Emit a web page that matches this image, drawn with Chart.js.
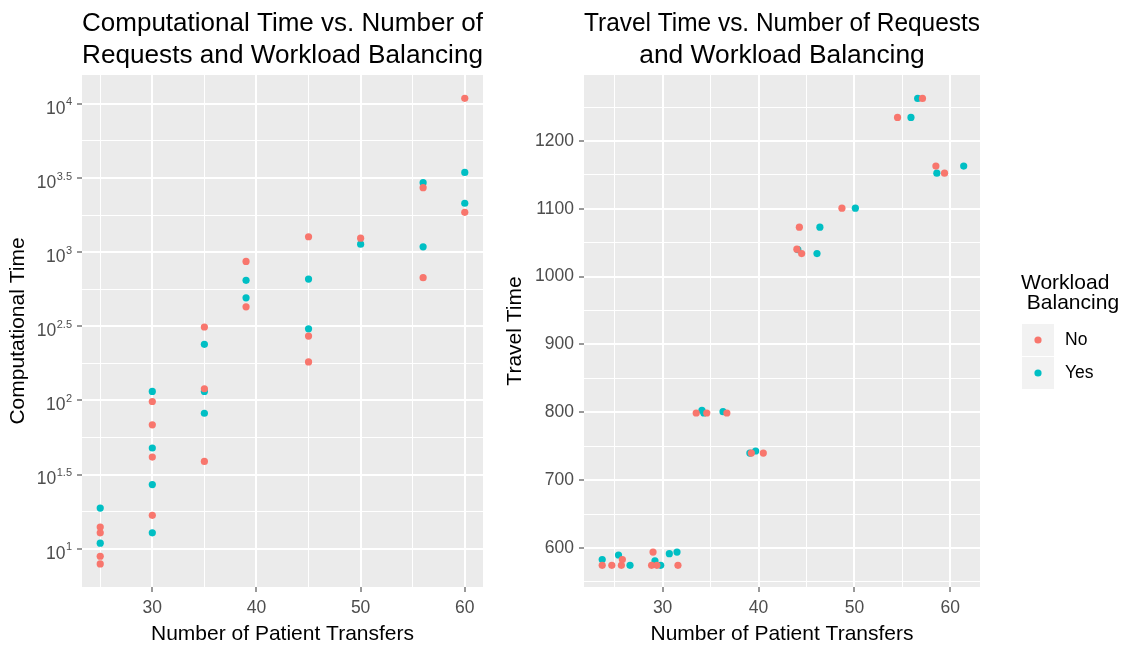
<!DOCTYPE html>
<html>
<head>
<meta charset="utf-8">
<script src="https://cdn.jsdelivr.net/npm/chart.js@4.4.0/dist/chart.umd.min.js"></script>
<style>
  body { margin: 0; background: #fff; }
  #wrap { position: relative; width: 1129px; height: 649px; }
  canvas { position: absolute; top: 0; }
  #comp { left: 0; }
  #travel { left: 490px; }
</style>
</head>
<body>
<div id="wrap">
  <canvas id="comp" width="490" height="649"></canvas>
  <canvas id="travel" width="639" height="649"></canvas>
</div>
<script>
const SERIES = ['No', 'Yes'];
const COLORS = ['#F8766D', '#00BFC4'];

// Computational time (log scale) by number of patient transfers
const compXNo  = [25, 25, 25, 25, 30, 30, 30, 30, 35, 35, 35, 39, 39, 45, 45, 45, 50, 56, 56, 60, 60];
const compYNo  = [14.0, 12.8, 8.9, 7.9, 98.4, 68.5, 41.5, 16.8, 313, 120, 38.8, 867, 428, 1271, 272, 182, 1244, 2724, 673, 10910, 1858];
const compXYes = [25, 25, 30, 30, 30, 30, 35, 35, 35, 39, 39, 45, 45, 50, 56, 56, 60, 60];
const compYYes = [18.8, 10.9, 115, 47.8, 27.1, 12.8, 239, 115, 82, 646, 492, 659, 304, 1133, 2944, 1087, 3451, 2138];

// Travel time (points are jittered along x in the original)
const travelXNo  = [23.7, 24.7, 25.7, 25.8, 28.85, 29.0, 29.4, 31.6, 33.5, 34.6, 36.7, 39.25, 40.5, 44.0, 44.26, 44.5, 48.7, 54.5, 57.1, 58.5, 59.4];
const travelYNo  = [574.5, 574.5, 574.5, 583, 574.5, 594, 574.5, 574.5, 799, 799, 799, 740, 740, 1040.5, 1073, 1034, 1101, 1234.7, 1262.7, 1163, 1152.6];
const travelXYes = [23.7, 25.4, 26.6, 29.2, 29.8, 30.7, 31.5, 34.1, 34.3, 36.3, 39.1, 39.7, 44.1, 46.1, 46.4, 50.1, 55.9, 56.6, 58.6, 61.4];
const travelYYes = [583, 589.7, 574.5, 581, 574.5, 591.6, 594, 803, 799, 801, 740, 743, 1040, 1034, 1073, 1101, 1234.7, 1262.7, 1152.6, 1163];

// axis breaks
const xMajor = [30, 40, 50, 60];
const xMinor = [25, 35, 45, 55];
const compExpMajor = [1, 1.5, 2, 2.5, 3, 3.5, 4];
const compExpMinor = [1.25, 1.75, 2.25, 2.75, 3.25, 3.75];
const travelMajor = [600, 700, 800, 900, 1000, 1100, 1200];
const travelMinor = [550, 650, 750, 850, 950, 1050, 1150, 1250];

const FONT = '"Liberation Sans", Arial, sans-serif';
Chart.defaults.font.family = FONT;
Chart.defaults.color = '#4D4D4D';

function toPoints(xs, ys) {
  return xs.map((x, i) => ({ x: x, y: ys[i] }));
}

function isIn(list, v) {
  return list.some(m => Math.abs(m - v) < 1e-6 * Math.max(1, Math.abs(m)));
}

function gridFor(majors) {
  return {
    color: '#FFFFFF',
    lineWidth: (c) => (c.tick && isIn(majors, c.tick.value)) ? 2 : 1,
    tickColor: (c) => (c.tick && isIn(majors, c.tick.value)) ? '#333333' : 'rgba(0,0,0,0)',
    tickWidth: 1,
    tickLength: 5,
    drawTicks: true
  };
}

function setTicks(values) {
  return (scale) => {
    scale.ticks = values.slice().sort((a, b) => a - b).map(v => ({ value: v }));
  };
}

function makeDatasets(noPts, yesPts) {
  return [noPts, yesPts].map((pts, i) => ({
    label: SERIES[i],
    data: pts,
    backgroundColor: COLORS[i],
    borderWidth: 0,
    pointRadius: 3.6,
    pointHoverRadius: 3.6
  }));
}

const panelBg = {
  id: 'panelBg',
  beforeDraw(chart) {
    const a = chart.chartArea;
    const ctx = chart.ctx;
    ctx.save();
    ctx.fillStyle = '#EBEBEB';
    ctx.fillRect(a.left, a.top, a.right - a.left, a.bottom - a.top);
    ctx.restore();
  }
};

// 10^x labels with a raised exponent
const logLabels = {
  id: 'logLabels',
  afterDraw(chart) {
    const y = chart.scales.y;
    const ctx = chart.ctx;
    const right = chart.chartArea.left - 10;
    ctx.save();
    ctx.fillStyle = '#4D4D4D';
    ctx.textAlign = 'right';
    ctx.textBaseline = 'alphabetic';
    compExpMajor.forEach(e => {
      const py = y.getPixelForValue(Math.pow(10, e));
      const sup = String(e);
      ctx.font = '11px ' + FONT;
      const w = ctx.measureText(sup).width;
      ctx.fillText(sup, right, py + 1.5);
      ctx.font = '17.5px ' + FONT;
      ctx.fillText('10', right - w - 0.5, py + 9.8);
    });
    ctx.restore();
  }
};

const legendBox = {
  id: 'legendBox',
  afterDraw(chart) {
    const ctx = chart.ctx;
    const x0 = 532;
    ctx.save();
    ctx.fillStyle = '#000000';
    ctx.textAlign = 'left';
    ctx.textBaseline = 'middle';
    ctx.font = '21px ' + FONT;
    ctx.fillText('Workload', x0 - 1, 283);
    ctx.fillText(' Balancing', x0 - 1, 303);
    chart.data.datasets.forEach((ds, i) => {
      const top = 324 + i * 33;
      ctx.fillStyle = '#F2F2F2';
      ctx.fillRect(x0, top, 32, 32);
      ctx.fillStyle = ds.backgroundColor;
      ctx.beginPath();
      ctx.arc(x0 + 16, top + 16, 3.6, 0, Math.PI * 2);
      ctx.fill();
      ctx.fillStyle = '#000000';
      ctx.font = '17.5px ' + FONT;
      ctx.fillText(ds.label, x0 + 43, top + 16);
    });
    ctx.restore();
  }
};

function titleOpts(lines) {
  return {
    display: true,
    text: lines,
    fullSize: false,
    color: '#000000',
    font: { size: 26.4, weight: 'normal', lineHeight: 32 / 26.4 },
    padding: { top: 8, bottom: 3 }
  };
}

function xAxis(min, max) {
  return {
    type: 'linear',
    min: min,
    max: max,
    afterBuildTicks: setTicks(xMajor.concat(xMinor)),
    afterFit: (s) => { s.height = 62; },
    grid: gridFor(xMajor),
    border: { display: false },
    ticks: {
      autoSkip: false,
      maxRotation: 0,
      padding: 6,
      color: '#4D4D4D',
      font: { size: 17.5 },
      callback: (v) => isIn(xMajor, v) ? String(v) : ''
    },
    title: {
      display: true,
      text: 'Number of Patient Transfers',
      color: '#000000',
      font: { size: 21 },
      padding: { top: 0, bottom: 2.4 }
    }
  };
}

function addCompChart() {
  const ctx = document.getElementById('comp');
  if (!ctx) {
    return;
  }
  new Chart(ctx, {
    type: 'scatter',
    data: { datasets: makeDatasets(toPoints(compXNo, compYNo), toPoints(compXYes, compYYes)) },
    plugins: [panelBg, logLabels],
    options: {
      responsive: false,
      animation: false,
      events: [],
      layout: { padding: { left: 0, right: 7, top: 0, bottom: 0 } },
      plugins: {
        legend: { display: false },
        tooltip: { enabled: false },
        title: titleOpts(['Computational Time vs. Number of', 'Requests and Workload Balancing'])
      },
      scales: {
        x: xAxis(23.25, 61.75),
        y: {
          type: 'logarithmic',
          min: Math.pow(10, 0.742),
          max: Math.pow(10, 4.195),
          afterBuildTicks: setTicks(compExpMajor.concat(compExpMinor).map(e => Math.pow(10, e))),
          afterFit: (s) => { s.width = 82; },
          grid: gridFor(compExpMajor.map(e => Math.pow(10, e))),
          border: { display: false },
          ticks: {
            autoSkip: false,
            callback: () => ''
          },
          title: {
            display: true,
            text: 'Computational Time',
            color: '#000000',
            font: { size: 21 },
            padding: { top: 6, bottom: 0 }
          }
        }
      }
    }
  });
}

function addTravelChart() {
  const ctx = document.getElementById('travel');
  if (!ctx) {
    return;
  }
  new Chart(ctx, {
    type: 'scatter',
    data: { datasets: makeDatasets(toPoints(travelXNo, travelYNo), toPoints(travelXYes, travelYYes)) },
    plugins: [panelBg, legendBox],
    options: {
      responsive: false,
      animation: false,
      events: [],
      layout: { padding: { left: 0, right: 149, top: 0, bottom: 0 } },
      plugins: {
        legend: { display: false },
        tooltip: { enabled: false },
        title: titleOpts(['Travel Time vs. Number of Requests', 'and Workload Balancing'])
      },
      scales: {
        x: xAxis(21.8, 63.1),
        y: {
          type: 'linear',
          min: 542.5,
          max: 1297.3,
          afterBuildTicks: setTicks(travelMajor.concat(travelMinor)),
          afterFit: (s) => { s.width = 94; },
          grid: gridFor(travelMajor),
          border: { display: false },
          ticks: {
            autoSkip: false,
            padding: 5,
            color: '#4D4D4D',
            font: { size: 17.5 },
            callback: (v) => isIn(travelMajor, v) ? String(v) : ''
          },
          title: {
            display: true,
            text: 'Travel Time',
            color: '#000000',
            font: { size: 21 },
            padding: { top: 13, bottom: 0 }
          }
        }
      }
    }
  });
}

addCompChart();
addTravelChart();
</script>
</body>
</html>
